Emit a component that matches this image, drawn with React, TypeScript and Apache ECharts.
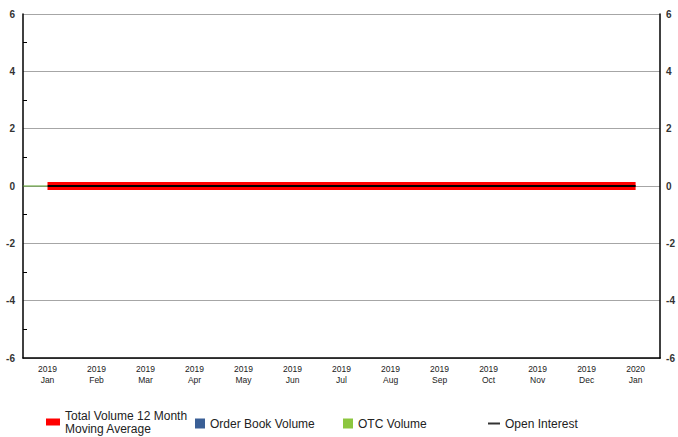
import React, { useEffect, useRef } from "react";
import * as echarts from "echarts";

const categories = ["2019\nJan", "2019\nFeb", "2019\nMar", "2019\nApr", "2019\nMay", "2019\nJun", "2019\nJul", "2019\nAug", "2019\nSep", "2019\nOct", "2019\nNov", "2019\nDec", "2020\nJan"];
const movingAverage = [0, 0, 0, 0, 0, 0, 0, 0, 0, 0, 0, 0, 0];
const orderBookVolume = [0, 0, 0, 0, 0, 0, 0, 0, 0, 0, 0, 0, 0];
const otcVolume = [0, 0, 0, 0, 0, 0, 0, 0, 0, 0, 0, 0, 0];
const openInterest = [0, 0, 0, 0, 0, 0, 0, 0, 0, 0, 0, 0, 0];
const yMin = -6;
const yMax = 6;
const yInterval = 2;

const FONT = "Liberation Sans, Arial, sans-serif";

export default function App() {
  const ref = useRef<HTMLDivElement>(null);
  useEffect(() => {
    if (!ref.current) return;
    const chart = echarts.init(ref.current, null, { renderer: "svg" });
    const yLabel = { fontSize: 10, color: "#333", fontFamily: FONT, fontWeight: "bold" as const };
    const legendBase = {
      orient: "horizontal" as const,
      top: 417,
      padding: 0,
      itemGap: 0,
      textStyle: { fontSize: 12, color: "#222", fontFamily: FONT, lineHeight: 13 },
      selectedMode: false,
    };
    chart.setOption({
      animation: false,
      backgroundColor: "#ffffff",
      grid: { left: 23, right: 17, top: 14, bottom: 79, containLabel: false },
      xAxis: {
        type: "category",
        data: categories,
        boundaryGap: true,
        axisLine: { show: true, onZero: false, lineStyle: { color: "#000", width: 1.5 } },
        axisTick: { show: false },
        axisLabel: { fontSize: 8.5, color: "#222", fontFamily: FONT, lineHeight: 11, margin: 5, interval: 0 },
        splitLine: { show: false },
      },
      yAxis: [
        {
          type: "value",
          min: yMin,
          max: yMax,
          interval: yInterval,
          position: "left",
          axisLine: { show: true, onZero: false, lineStyle: { color: "#000", width: 1.5 } },
          axisTick: { show: false, inside: true },
          minorTick: { show: true, splitNumber: 2, length: 4, lineStyle: { color: "#000", width: 1 } },
          axisLabel: { ...yLabel, margin: 8 },
          splitLine: { show: true, lineStyle: { color: "#a6a6a6", width: 1 } },
        },
        {
          type: "value",
          min: yMin,
          max: yMax,
          interval: yInterval,
          position: "right",
          axisLine: { show: true, onZero: false, lineStyle: { color: "#000", width: 1.5 } },
          axisTick: { show: false },
          axisLabel: { ...yLabel, margin: 6 },
          splitLine: { show: false },
        },
      ],
      legend: [
        { ...legendBase, left: 46, top: 409, itemWidth: 14, itemHeight: 7, data: [{ name: "Total Volume 12 Month\nMoving Average", icon: "rect" }] },
        { ...legendBase, left: 195, itemWidth: 10, itemHeight: 10, data: [{ name: "Order Book Volume", icon: "rect" }] },
        { ...legendBase, left: 343, itemWidth: 10, itemHeight: 10, data: [{ name: "OTC Volume", icon: "rect" }] },
        { ...legendBase, left: 488, itemWidth: 12, itemHeight: 2, data: [{ name: "Open Interest", icon: "rect", itemStyle: { color: "#333" } }] },
      ],
      series: [
        {
          name: "Order Book Volume",
          type: "bar",
          stack: "vol",
          data: orderBookVolume,
          itemStyle: { color: "#3a5f96" },
        },
        {
          name: "OTC Volume",
          type: "bar",
          stack: "vol",
          data: otcVolume,
          itemStyle: { color: "#8cc63f" },
        },
        {
          name: "Total Volume 12 Month\nMoving Average",
          type: "line",
          data: movingAverage,
          symbol: "none",
          lineStyle: { color: "#ff0000", width: 8 },
          itemStyle: { color: "#ff0000" },
          z: 3,
        },
        {
          name: "Open Interest",
          type: "line",
          data: openInterest,
          symbol: "none",
          lineStyle: { color: "#000", width: 2 },
          itemStyle: { color: "#000" },
          z: 4,
        },
      ],
    });
    const p0 = chart.convertToPixel({ gridIndex: 0 }, [0, otcVolume[0]]) as number[];
    chart.setOption({
      graphic: [
        {
          type: "line",
          shape: { x1: 23, y1: p0[1], x2: p0[0], y2: p0[1] },
          style: { stroke: "#5aa02c", lineWidth: 1 },
          z: 10,
        },
      ],
    });
    return () => chart.dispose();
  }, []);
  return <div ref={ref} style={{ width: 678, height: 437, position: "absolute", left: 0, top: 0 }} />;
}
